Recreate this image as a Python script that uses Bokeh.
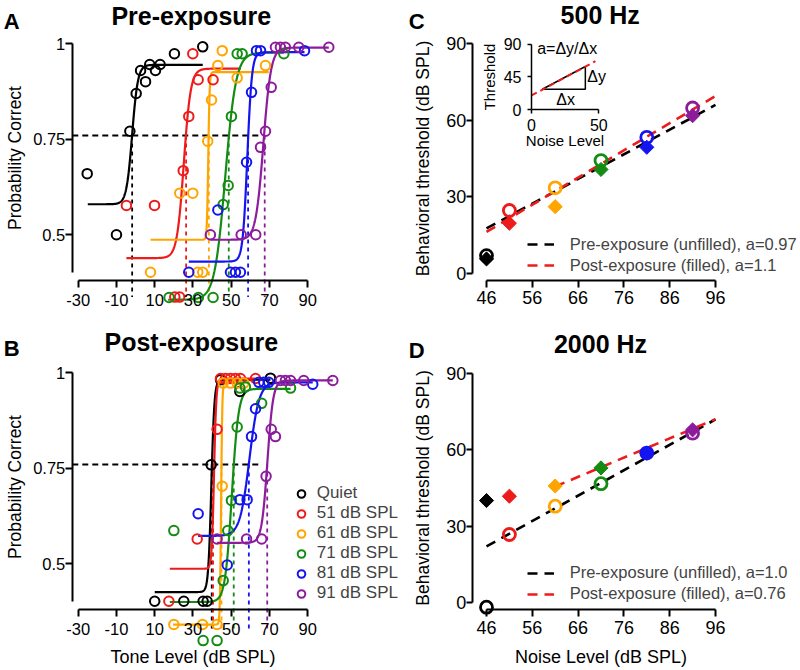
import numpy as np
from bokeh.plotting import figure
from bokeh.models import (Range1d, LinearAxis, FixedTicker, NumeralTickFormatter,
                          Label, Legend, LegendItem)
from bokeh.core.properties import value
from bokeh.layouts import column, row
from bokeh.embed import file_html
from bokeh.resources import INLINE

FONT = "Liberation Sans"

# ---------------- data ----------------
series_labels = ["Quiet", "51 dB SPL", "61 dB SPL", "71 dB SPL", "81 dB SPL", "91 dB SPL"]
series_colors = ["#000000", "#ee1b1b", "#ffa500", "#148c14", "#1414f0", "#8c1c9c"]

tone_ticks = [-30, -10, 10, 30, 50, 70, 90]
prob_ticks = [0.5, 0.75, 1.0]
noise_ticks = [46, 56, 66, 76, 86, 96]
thr_ticks = [0, 30, 60, 90]
criterion = 0.76

# Panel A: pre-exposure psychometric data (tone level, probability correct)
pre_quiet_x = [-25.3, -10.0, -3.0, 0.3, 2.6, 5.2, 7.4, 10.4, 12.8, 20.3, 35.1]
pre_quiet_y = [0.66, 0.50, 0.771, 0.87, 0.93, 0.901, 0.946, 0.93, 0.946, 0.974, 0.992]
pre_51_x = [-4.8, 9.9, 20.5, 23.0, 24.9, 27.8, 29.9, 32.7, 40.5]
pre_51_y = [0.577, 0.577, 0.337, 0.337, 0.668, 0.81, 0.974, 0.906, 0.906]
pre_61_x = [7.8, 23.1, 29.9, 32.5, 35.1, 37.7, 39.7, 43.0, 45.3, 53.1, 67.9]
pre_61_y = [0.402, 0.609, 0.609, 0.402, 0.402, 0.745, 0.853, 0.943, 0.982, 0.911, 0.943]
pre_71_x = [17.5, 32.8, 40.5, 45.8, 48.4, 50.1, 53.1, 55.7, 77.5]
pre_71_y = [0.336, 0.336, 0.336, 0.579, 0.629, 0.81, 0.974, 0.974, 0.974]
pre_81_x = [27.8, 43.0, 49.6, 52.2, 54.8, 58.0, 60.6, 63.2, 65.3, 88.3]
pre_81_y = [0.402, 0.565, 0.402, 0.402, 0.402, 0.69, 0.873, 0.982, 0.982, 0.982]
pre_91_x = [39.1, 55.2, 62.8, 65.3, 67.9, 70.9, 73.1, 75.7, 78.3, 85.3, 101.0]
pre_91_y = [0.5, 0.5, 0.5, 0.729, 0.771, 0.886, 0.991, 0.991, 0.991, 0.991, 0.991]

# fitted psychometric functions (lower/upper asymptote, midpoint, width, extent)
pre_fit_lower = [0.58, 0.439, 0.487, 0.33, 0.43, 0.487]
pre_fit_upper = [0.945, 0.935, 0.926, 0.977, 0.978, 0.99]
pre_fit_mid = [-1.8, 25.2, 38.0, 46.9, 58.4, 66.8]
pre_fit_width = [1.5, 1.8, 0.35, 2.8, 1.2, 2.0]
pre_fit_xmin = [-25.0, -4.8, 7.8, 17.0, 27.8, 39.1]
pre_fit_xmax = [35.1, 55.0, 69.6, 77.5, 88.3, 101.0]
pre_thresholds = [-1.8, 26.4, 38.3, 48.7, 58.8, 67.5]

# Panel B: post-exposure psychometric data
post_quiet_x = [10.0, 25.2, 35.3, 37.4, 39.5, 44.4, 54.5, 70.5]
post_quiet_y = [0.402, 0.402, 0.402, 0.402, 0.759, 0.982, 0.951, 0.986]
post_51_x = [17.4, 32.2, 42.6, 44.4, 47.0, 49.6, 52.2, 54.8, 62.7]
post_51_y = [0.402, 0.565, 0.852, 0.985, 0.985, 0.985, 0.985, 0.985, 0.985]
post_61_x = [20.0, 35.0, 42.6, 45.3, 45.8, 49.6, 53.1, 56.6]
post_61_y = [0.341, 0.341, 0.341, 0.703, 0.973, 0.973, 0.973, 0.973]
post_71_x = [20.0, 35.3, 42.6, 45.8, 48.2, 50.1, 53.1, 54.5, 57.4, 65.9, 81.0]
post_71_y = [0.587, 0.299, 0.299, 0.456, 0.587, 0.666, 0.858, 0.96, 0.963, 0.92, 0.96]
post_81_x = [32.7, 47.9, 54.5, 58.3, 60.6, 62.7, 64.4, 67.0, 69.6, 92.6]
post_81_y = [0.631, 0.497, 0.668, 0.668, 0.833, 0.906, 0.975, 0.975, 0.975, 0.97]
post_91_x = [42.6, 58.0, 65.9, 68.2, 70.9, 73.1, 75.7, 78.3, 81.0, 87.9, 103.1]
post_91_y = [0.565, 0.565, 0.565, 0.729, 0.852, 0.833, 0.98, 0.98, 0.98, 0.98, 0.98]

post_fit_lower = [0.426, 0.487, 0.341, 0.40, 0.573, 0.555]
post_fit_upper = [0.982, 0.985, 0.975, 0.958, 0.975, 0.98]
post_fit_mid = [39.6, 41.0, 44.7, 50.3, 59.5, 68.9]
post_fit_width = [0.8, 0.6, 0.3, 1.75, 2.5, 1.5]
post_fit_xmin = [10.0, 17.9, 19.6, 17.9, 32.7, 42.6]
post_fit_xmax = [70.5, 62.7, 59.0, 81.0, 92.6, 103.1]
post_thresholds = [39.8, 40.5, 44.9, 51.3, 59.2, 68.8]

# Panels C and D: behavioral thresholds vs noise level
noise_levels = [46, 51, 61, 71, 81, 91]
c500_pre = [6.9, 24.6, 33.5, 44.2, 53.3, 64.8]
c500_post = [5.6, 19.6, 26.1, 40.7, 49.4, 61.8]
d2000_pre = [-1.7, 26.8, 37.9, 46.7, 58.7, 66.5]
d2000_post = [40.1, 41.8, 45.8, 52.9, 58.7, 67.8]

c500_pre_fit_x = [46, 96]
c500_pre_fit_y = [17.6, 66.0]
c500_post_fit_x = [46, 96]
c500_post_fit_y = [16.2, 69.5]
d2000_pre_fit_x = [46, 96]
d2000_pre_fit_y = [22.1, 71.9]
d2000_post_fit_x = [61, 96]
d2000_post_fit_y = [45.6, 72.0]

c500_legend = ["Pre-exposure (unfilled), a=0.97", "Post-exposure (filled), a=1.1"]
d2000_legend = ["Pre-exposure (unfilled), a=1.0", "Post-exposure (filled), a=0.76"]

# inset schematic (Noise Level vs Threshold)
inset_x_ticks = [0, 50]
inset_y_ticks = [0, 45, 90]
inset_fit_x = [0, 47.5]
inset_fit_y = [19.4, 66.9]
inset_tri_x = [8, 40, 40, 8]
inset_tri_y = [28, 59.5, 28, 28]


# ---------------- helpers ----------------
def make_fig(w, h, xr, yr):
    p = figure(width=w, height=h, x_range=Range1d(*xr), y_range=Range1d(*yr),
               output_backend="svg", toolbar_location=None,
               min_border_left=0, min_border_right=0,
               min_border_top=0, min_border_bottom=0)
    p.title.visible = False
    p.xgrid.visible = False
    p.ygrid.visible = False
    p.outline_line_color = None
    p.background_fill_color = "white"
    p.border_fill_color = "white"
    return p


def style_axis(ax, ticks, bounds, tick_px, standoff, tick_out=7, lw=2,
               label=None, label_px=18, label_standoff=8):
    ax.ticker = FixedTicker(ticks=ticks)
    ax.bounds = bounds
    ax.axis_line_width = lw
    ax.axis_line_color = "black"
    ax.major_tick_line_width = lw
    ax.major_tick_line_color = "black"
    ax.major_tick_out = tick_out
    ax.major_tick_in = 0
    ax.minor_tick_out = 0
    ax.minor_tick_in = 0
    ax.major_label_text_font = FONT
    ax.major_label_text_font_size = f"{tick_px}px"
    ax.major_label_text_color = "black"
    ax.major_label_standoff = standoff
    if label is not None:
        ax.axis_label = label
        ax.axis_label_text_font = FONT
        ax.axis_label_text_font_size = f"{label_px}px"
        ax.axis_label_text_font_style = "normal"
        ax.axis_label_text_color = "black"
        ax.axis_label_standoff = label_standoff


def add_heading(p, letter, title, lx, ly, tx, ty):
    p.add_layout(Label(x=lx, y=ly, x_units="screen", y_units="screen", text=letter,
                       text_font=FONT, text_font_size="22px", text_font_style="bold",
                       text_color="black", text_baseline="alphabetic", text_align="left"))
    p.add_layout(Label(x=tx, y=ty, x_units="screen", y_units="screen", text=title,
                       text_font=FONT, text_font_size="25px", text_font_style="bold",
                       text_color="black", text_baseline="alphabetic", text_align="center"))


def psych_panel(p, xs, ys, lo, hi, mid, wd, xmin, xmax, thr, drop_to, h_start, h_end):
    p.segment(x0=[h_start], y0=[criterion], x1=[h_end], y1=[criterion],
              line_color="black", line_width=1.8, line_dash="6 4")
    p.segment(x0=thr, y0=[criterion] * len(thr), x1=thr, y1=[drop_to] * len(thr),
              line_color=series_colors, line_width=1.8, line_dash="4 4")
    for i in range(len(lo)):
        cx = np.linspace(xmin[i], xmax[i], 400)
        cy = lo[i] + (hi[i] - lo[i]) / (1.0 + np.exp(-(cx - mid[i]) / wd[i]))
        p.line(cx, cy, line_color=series_colors[i], line_width=2.2)
    rends = []
    for i in range(len(xs)):
        r = p.scatter(xs[i], ys[i], marker="circle", size=9.5, fill_color=None,
                      line_color=series_colors[i], line_width=2)
        rends.append(r)
    return rends


def tone_axes(p, xlabel):
    p.xaxis.fixed_location = 0.381
    p.yaxis.fixed_location = -33.1
    style_axis(p.xaxis[0], tone_ticks, (-30, 90), 16.5, 7, label=xlabel, label_standoff=8)
    p.xaxis[0].formatter = NumeralTickFormatter(format="0")
    style_axis(p.yaxis[0], prob_ticks, (0.4, 1.0), 16.5, 0, label="Probability Correct",
               label_px=17.5, label_standoff=5)
    p.yaxis[0].formatter = NumeralTickFormatter(format="0.[00]")


TONE_XR = (-70.62, 142.66)

# ---------------- Panel A ----------------
pA = make_fig(408, 322, TONE_XR, (0.2704, 1.1134))
tone_axes(pA, None)
psych_panel(pA,
            [pre_quiet_x, pre_51_x, pre_61_x, pre_71_x, pre_81_x, pre_91_x],
            [pre_quiet_y, pre_51_y, pre_61_y, pre_71_y, pre_81_y, pre_91_y],
            pre_fit_lower, pre_fit_upper, pre_fit_mid, pre_fit_width,
            pre_fit_xmin, pre_fit_xmax, pre_thresholds, 0.337, -33.1, 66.0)
add_heading(pA, "A", "Pre-exposure", 3.3, 301.5, 190.8, 306.5)

# ---------------- Panel B ----------------
pB = make_fig(408, 346, TONE_XR, (0.2259, 1.1317))
tone_axes(pB, "Tone Level (dB SPL)")
rB = psych_panel(pB,
                 [post_quiet_x, post_51_x, post_61_x, post_71_x, post_81_x, post_91_x],
                 [post_quiet_y, post_51_y, post_61_y, post_71_y, post_81_y, post_91_y],
                 post_fit_lower, post_fit_upper, post_fit_mid, post_fit_width,
                 post_fit_xmin, post_fit_xmax, post_thresholds, 0.325, -33.1, 66.0)
legB = Legend(items=[LegendItem(label=lab, renderers=[r]) for lab, r in zip(series_labels, rB)],
              location=(290.7, 65.0), padding=0, margin=0, spacing=0,
              glyph_width=20, glyph_height=19, label_height=19, label_standoff=6,
              border_line_color=None, background_fill_alpha=0,
              label_text_font=FONT, label_text_font_size="17px")
pB.add_layout(legB)
add_heading(pB, "B", "Post-exposure", 3.3, 320.0, 190.8, 327.0)


# ---------------- Panels C, D ----------------
def threshold_panel(p, pre, post, pre_fx, pre_fy, post_fx, post_fy, labels, leg_y,
                    xaxis_at, xlabel):
    p.xaxis.fixed_location = xaxis_at
    p.yaxis.fixed_location = 42.88
    style_axis(p.xaxis[0], noise_ticks, (46, 96), 18, 4, label=xlabel, label_standoff=10)
    style_axis(p.yaxis[0], thr_ticks, (0, 90), 18, 0, tick_out=6,
               label="Behavioral threshold (dB SPL)", label_px=17.5, label_standoff=10)
    lpre = p.line(pre_fx, pre_fy, line_color="black", line_width=2.6, line_dash="10 7")
    lpost = p.line(post_fx, post_fy, line_color="#ee1b1b", line_width=2.6, line_dash="10 7")
    p.scatter(noise_levels, pre, marker="circle", size=12, fill_color=None,
              line_color=series_colors, line_width=2.8)
    p.scatter(noise_levels, post, marker="square", angle=np.pi / 4, size=10,
              fill_color=series_colors, line_color=series_colors, line_width=1)
    leg = Legend(items=[LegendItem(label=labels[0], renderers=[lpre]),
                        LegendItem(label=labels[1], renderers=[lpost])],
                 location=(118.7, leg_y), padding=0, margin=0, spacing=2,
                 glyph_width=27, glyph_height=18, label_height=18, label_standoff=16,
                 border_line_color=None, background_fill_alpha=0,
                 label_text_font=FONT, label_text_font_size="16.5px")
    p.add_layout(leg)


NOISE_XR = (28.969, 114.559)
pC = make_fig(392, 322, NOISE_XR, (-19.34, 106.98))
threshold_panel(pC, c500_pre, c500_post, c500_pre_fit_x, c500_pre_fit_y,
                c500_post_fit_x, c500_post_fit_y, c500_legend, 47.5, -2.86, None)
add_heading(pC, "C", "500 Hz", 0.3, 301.5, 191.7, 307.5)

# inset schematic in panel C (own ranges mapped onto the same screen area)
pC.extra_x_ranges = {"ix": Range1d(-91.38, 199.84)}
pC.extra_y_ranges = {"iy": Range1d((-19.34 - 64.22) * 3.5294, 150.92)}
iax = LinearAxis(x_range_name="ix", y_range_name="iy", fixed_location=0)
style_axis(iax, inset_x_ticks, (0, 50), 16, 5, tick_out=4, lw=1.5,
           label="Noise Level", label_px=15, label_standoff=-2)
pC.add_layout(iax, "below")
iay = LinearAxis(x_range_name="ix", y_range_name="iy", fixed_location=0)
style_axis(iay, inset_y_ticks, (0, 90), 16, 6, tick_out=4, lw=1.5,
           label="Threshold", label_px=15, label_standoff=3)
pC.add_layout(iay, "left")
pC.line(inset_tri_x, inset_tri_y, x_range_name="ix", y_range_name="iy",
        line_color="black", line_width=1.5)
pC.line(inset_fit_x, inset_fit_y, x_range_name="ix", y_range_name="iy",
        line_color="#ee1b1b", line_width=2, line_dash="6 4")
pC.text(x=[4.2], y=[84], text=["a=Δy/Δx"], x_range_name="ix", y_range_name="iy",
        text_font=value(FONT), text_font_size="16px", text_baseline="middle",
        text_align="left", text_color="black")
pC.text(x=[41.5], y=[46], text=["Δy"], x_range_name="ix", y_range_name="iy",
        text_font=value(FONT), text_font_size="16px", text_baseline="middle",
        text_align="left", text_color="black")
pC.text(x=[25.3], y=[14.5], text=["Δx"], x_range_name="ix", y_range_name="iy",
        text_font=value(FONT), text_font_size="16px", text_baseline="middle",
        text_align="center", text_color="black")

pD = make_fig(392, 346, NOISE_XR, (-25.72, 109.88))
threshold_panel(pD, d2000_pre, d2000_post, d2000_pre_fit_x, d2000_pre_fit_y,
                d2000_post_fit_x, d2000_post_fit_y, d2000_legend, 65.0, -2.74,
                "Noise Level (dB SPL)")
add_heading(pD, "D", "2000 Hz", 0.3, 318.5, 192.0, 325.0)

layout = row(column(pA, pB), column(pC, pD))
open("out.html", "w").write(file_html(layout, INLINE))
